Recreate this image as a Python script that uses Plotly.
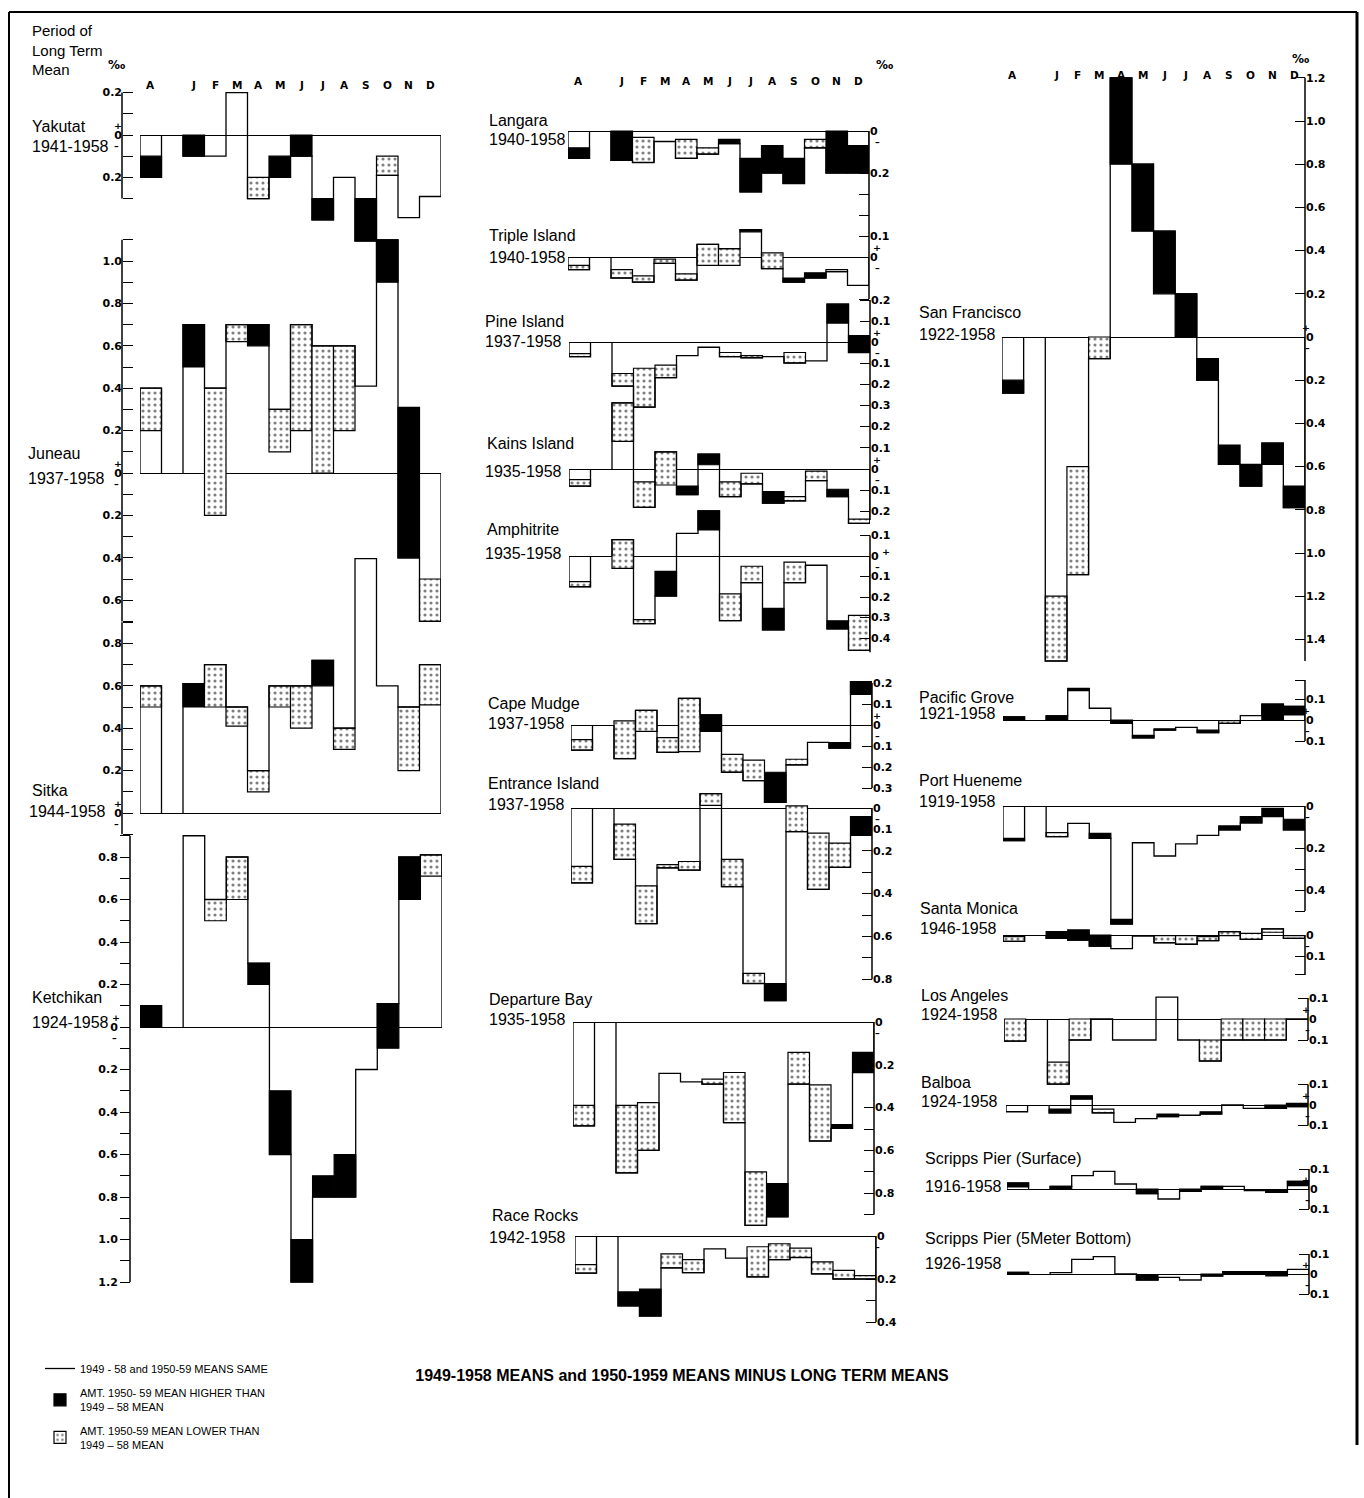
import plotly.graph_objects as go

W, H = 1364, 1498

MONTHS = ["A", "J", "F", "M", "A", "M", "J", "J", "A", "S", "O", "N", "D"]
SLOTS = [0, 2, 3, 4, 5, 6, 7, 8, 9, 10, 11, 12, 13]

# ---- data: 1949-58 mean minus long-term mean, and 1950-59 mean minus long-term mean (per mille)
#           order: Annual, Jan ... Dec
yakutat_4958 = [-0.20, -0.10, -0.10, 0.20, -0.20, -0.20, -0.10, -0.40, -0.20, -0.50, -0.10, -0.39, -0.29]
yakutat_5059 = [-0.10, 0.00, -0.10, 0.20, -0.30, -0.10, 0.00, -0.30, -0.20, -0.30, -0.19, -0.39, -0.29]

juneau_4958 = [0.40, 0.50, 0.40, 0.70, 0.60, 0.30, 0.70, 0.60, 0.60, 0.41, 0.90, -0.40, -0.50]
juneau_5059 = [0.20, 0.70, -0.20, 0.62, 0.70, 0.10, 0.20, 0.00, 0.20, 0.41, 1.10, 0.31, -0.70]

sitka_4958 = [0.60, 0.50, 0.70, 0.50, 0.20, 0.60, 0.60, 0.60, 0.40, 1.20, 0.60, 0.50, 0.70]
sitka_5059 = [0.50, 0.61, 0.50, 0.41, 0.10, 0.50, 0.40, 0.72, 0.30, 1.20, 0.60, 0.20, 0.51]

ketchikan_4958 = [0.00, 0.90, 0.60, 0.80, 0.20, -0.60, -1.20, -0.80, -0.80, -0.20, -0.10, 0.60, 0.81]
ketchikan_5059 = [0.10, 0.90, 0.50, 0.60, 0.30, -0.30, -1.00, -0.70, -0.60, -0.20, 0.11, 0.80, 0.71]

langara_4958 = [-0.13, -0.14, -0.03, -0.05, -0.04, -0.08, -0.06, -0.29, -0.20, -0.25, -0.04, -0.20, -0.20]
langara_5059 = [-0.08, 0.00, -0.15, -0.05, -0.13, -0.11, -0.04, -0.13, -0.07, -0.13, -0.08, 0.00, -0.07]

triple_4958 = [-0.04, -0.06, -0.09, -0.01, -0.08, 0.06, 0.04, 0.12, 0.02, -0.12, -0.10, -0.06, -0.135]
triple_5059 = [-0.06, -0.10, -0.12, -0.03, -0.11, -0.04, -0.04, 0.13, -0.055, -0.10, -0.075, -0.07, -0.135]

pine_4958 = [-0.055, -0.15, -0.125, -0.11, -0.065, -0.025, -0.05, -0.065, -0.07, -0.05, -0.09, 0.09, -0.05]
pine_5059 = [-0.07, -0.21, -0.31, -0.17, -0.065, -0.025, -0.07, -0.075, -0.07, -0.10, -0.09, 0.18, 0.03]

kains_4958 = [-0.05, 0.31, -0.06, 0.08, -0.12, 0.02, -0.06, -0.02, -0.16, -0.13, -0.01, -0.13, -0.235]
kains_5059 = [-0.08, 0.13, -0.18, -0.075, -0.08, 0.07, -0.13, -0.07, -0.106, -0.15, -0.055, -0.095, -0.255]

amphitrite_4958 = [-0.125, 0.08, -0.31, -0.195, 0.11, 0.127, -0.185, -0.05, -0.36, -0.03, -0.045, -0.355, -0.29]
amphitrite_5059 = [-0.15, -0.06, -0.33, -0.075, 0.11, 0.22, -0.315, -0.13, -0.255, -0.13, -0.045, -0.316, -0.46]

capemudge_4958 = [-0.07, 0.02, 0.07, -0.06, 0.127, -0.03, -0.14, -0.167, -0.368, -0.163, -0.083, -0.11, 0.146]
capemudge_5059 = [-0.12, -0.16, -0.03, -0.13, -0.127, 0.048, -0.225, -0.265, -0.225, -0.19, -0.083, -0.084, 0.206]

entrance_4958 = [-0.273, -0.075, -0.364, -0.265, -0.25, 0.067, -0.24, -0.773, -0.90, 0.01, -0.117, -0.164, -0.128]
entrance_5059 = [-0.35, -0.24, -0.54, -0.28, -0.29, 0.012, -0.367, -0.82, -0.82, -0.11, -0.38, -0.277, -0.04]

departure_4958 = [-0.39, -0.39, -0.377, -0.24, -0.28, -0.267, -0.236, -0.70, -0.91, -0.142, -0.294, -0.497, -0.236]
departure_5059 = [-0.485, -0.705, -0.60, -0.24, -0.28, -0.29, -0.47, -0.95, -0.755, -0.29, -0.556, -0.48, -0.142]

racerocks_4958 = [-0.133, -0.325, -0.372, -0.083, -0.11, -0.06, -0.103, -0.05, -0.036, -0.056, -0.12, -0.16, -0.184]
racerocks_5059 = [-0.173, -0.26, -0.247, -0.148, -0.17, -0.06, -0.103, -0.19, -0.11, -0.10, -0.176, -0.20, -0.20]

sanfrancisco_4958 = [-0.26, -1.20, -0.60, 0.00, 0.80, 0.49, 0.20, 0.00, -0.20, -0.59, -0.69, -0.59, -0.79]
sanfrancisco_5059 = [-0.20, -1.50, -1.10, -0.10, 1.20, 0.80, 0.49, 0.20, -0.10, -0.50, -0.59, -0.49, -0.69]

pacificgrove_4958 = [0.00, 0.00, 0.14, 0.056, -0.016, -0.085, -0.048, -0.035, -0.06, -0.003, 0.021, 0.00, 0.024]
pacificgrove_5059 = [0.015, 0.02, 0.15, 0.056, 0.00, -0.073, -0.042, -0.035, -0.048, -0.016, 0.021, 0.076, 0.065]

porthueneme_4958 = [-0.165, -0.127, -0.083, -0.154, -0.562, -0.175, -0.238, -0.18, -0.14, -0.114, -0.08, -0.05, -0.114]
porthueneme_5059 = [-0.154, -0.146, -0.083, -0.13, -0.54, -0.175, -0.238, -0.18, -0.14, -0.095, -0.05, -0.011, -0.063]

santamonica_4958 = [-0.008, -0.016, -0.024, -0.053, -0.065, -0.005, -0.003, -0.003, -0.008, 0.016, 0.008, 0.029, -0.003]
santamonica_5059 = [-0.03, 0.016, 0.024, 0.00, -0.065, -0.005, -0.037, -0.044, -0.027, -0.003, -0.021, 0.013, -0.016]

losangeles_4958 = [0.00, -0.205, 0.00, 0.00, -0.10, -0.10, 0.104, -0.10, -0.10, 0.00, 0.00, 0.00, 0.00]
losangeles_5059 = [-0.105, -0.31, -0.10, 0.00, -0.10, -0.10, 0.104, -0.10, -0.20, -0.10, -0.10, -0.10, 0.00]

balboa_4958 = [-0.033, -0.038, 0.028, -0.02, -0.085, -0.066, -0.057, -0.05, -0.044, 0.00, -0.016, -0.016, -0.008]
balboa_5059 = [-0.033, -0.02, 0.044, -0.038, -0.085, -0.066, -0.044, -0.05, -0.033, 0.00, -0.016, 0.00, 0.008]

scrippssurf_4958 = [0.01, 0.00, 0.067, 0.088, 0.025, -0.023, -0.05, -0.012, 0.003, 0.013, -0.008, -0.017, 0.017]
scrippssurf_5059 = [0.03, 0.013, 0.067, 0.088, 0.025, 0.00, -0.05, 0.00, 0.013, 0.013, -0.008, -0.003, 0.038]

scrippsbot_4958 = [0.00, 0.007, 0.073, 0.087, 0.00, -0.03, -0.017, -0.03, -0.01, 0.00, 0.00, -0.01, 0.023]
scrippsbot_5059 = [0.008, 0.007, 0.073, 0.087, 0.00, -0.008, -0.017, -0.03, 0.00, 0.012, 0.012, 0.012, 0.023]

STATIONS = [
    ("yakutat", "Yakutat", "1941-1958", yakutat_4958, yakutat_5059),
    ("juneau", "Juneau", "1937-1958", juneau_4958, juneau_5059),
    ("sitka", "Sitka", "1944-1958", sitka_4958, sitka_5059),
    ("ketchikan", "Ketchikan", "1924-1958", ketchikan_4958, ketchikan_5059),
    ("langara", "Langara", "1940-1958", langara_4958, langara_5059),
    ("triple", "Triple Island", "1940-1958", triple_4958, triple_5059),
    ("pine", "Pine Island", "1937-1958", pine_4958, pine_5059),
    ("kains", "Kains Island", "1935-1958", kains_4958, kains_5059),
    ("amphitrite", "Amphitrite", "1935-1958", amphitrite_4958, amphitrite_5059),
    ("capemudge", "Cape Mudge", "1937-1958", capemudge_4958, capemudge_5059),
    ("entrance", "Entrance Island", "1937-1958", entrance_4958, entrance_5059),
    ("departure", "Departure Bay", "1935-1958", departure_4958, departure_5059),
    ("racerocks", "Race Rocks", "1942-1958", racerocks_4958, racerocks_5059),
    ("sanfrancisco", "San Francisco", "1922-1958", sanfrancisco_4958, sanfrancisco_5059),
    ("pacificgrove", "Pacific Grove", "1921-1958", pacificgrove_4958, pacificgrove_5059),
    ("porthueneme", "Port Hueneme", "1919-1958", porthueneme_4958, porthueneme_5059),
    ("santamonica", "Santa Monica", "1946-1958", santamonica_4958, santamonica_5059),
    ("losangeles", "Los Angeles", "1924-1958", losangeles_4958, losangeles_5059),
    ("balboa", "Balboa", "1924-1958", balboa_4958, balboa_5059),
    ("scrippssurf", "Scripps Pier (Surface)", "1916-1958", scrippssurf_4958, scrippssurf_5059),
    ("scrippsbot", "Scripps Pier (5Meter Bottom)", "1926-1958", scrippsbot_4958, scrippsbot_5059),
]

# ---- layout geometry (pixels): panel slot extent, zero line, scale, axis
L = dict(ax=122, side="left", ticks="inside", sx=112, pdx=0)
LK = dict(ax=130, side="left", ticks="outside", sx=110, pdx=0)
M = dict(side="right", ticks="inside", sx=877, pdx=0)
R = dict(side="right", ticks="inside", sx=1312, pdx=0)

GEOM = {
    "yakutat": dict(L, x0=140, x1=441, zero=135, ppu=212, span=(-0.3, 0.2),
                    labels=[0.2, 0, -0.2], minor=[0.1, -0.1, -0.3], plus=True, minus=True,
                    nxy=(30, 126), pxy=(30, 147)),
    "juneau": dict(L, x0=140, x1=441, zero=473, ppu=212, span=(-0.7, 1.1),
                   labels=[1.0, 0.8, 0.6, 0.4, 0.2, 0, -0.2, -0.4, -0.6],
                   minor=[1.1, 0.9, 0.7, 0.5, 0.3, 0.1, -0.1, -0.3, -0.5, -0.7], plus=True, minus=True,
                   nxy=(26, 453), pxy=(26, 478)),
    "sitka": dict(L, x0=140, x1=441, zero=813, ppu=212, span=(-0.1, 0.9),
                  labels=[0.8, 0.6, 0.4, 0.2, 0], minor=[0.9, 0.7, 0.5, 0.3, 0.1, -0.1],
                  plus=True, minus=True, nxy=(30, 790), pxy=(27, 812)),
    "ketchikan": dict(LK, x0=140, x1=442, zero=1027, ppu=212.5, span=(-1.2, 0.9),
                      labels=[0.8, 0.6, 0.4, 0.2, 0, -0.2, -0.4, -0.6, -0.8, -1.0, -1.2],
                      minor=[0.9, 0.7, 0.5, 0.3, 0.1, -0.1, -0.3, -0.5, -0.7, -0.9, -1.1],
                      plus=True, minus=True, nxy=(30, 997), pxy=(30, 1022)),
    "langara": dict(M, x0=568, x1=869, ax=869, zero=131, ppu=210, span=(-0.4, 0),
                    labels=[0, -0.2], minor=[-0.3, -0.4], plus=False, minus=True,
                    nxy=(487, 121), pxy=(487, 139)),
    "triple": dict(M, x0=568, x1=869, ax=869, zero=257, ppu=210, span=(-0.2, 0.2),
                   labels=[0.1, 0], minor=[0.2, -0.2], plus=True, minus=True,
                   nxy=(487, 235), pxy=(487, 257)),
    "pine": dict(M, x0=569, x1=870, ax=870, zero=342, ppu=210, span=(-0.3, 0.2),
                 labels=[0.2, 0.1, 0, -0.1, -0.2, -0.3], minor=[], plus=True, minus=True,
                 nxy=(483, 321), pxy=(483, 342)),
    "kains": dict(M, x0=569, x1=870, ax=870, zero=469, ppu=213, span=(-0.24, 0.3),
                  labels=[0.2, 0.1, 0, -0.1, -0.2], minor=[0.3], plus=True, minus=True,
                  nxy=(485, 443), pxy=(483, 471)),
    "amphitrite": dict(M, x0=569, x1=870, ax=870, zero=556, ppu=205, span=(-0.47, 0.1),
                       labels=[0.1, 0, -0.1, -0.2, -0.3, -0.4], minor=[], plus=True, minus=True,
                       nxy=(485, 529), pxy=(483, 553), pdx=9),
    "capemudge": dict(M, x0=571, x1=872, ax=872, zero=725, ppu=210, span=(-0.3, 0.2),
                      labels=[0.2, 0.1, 0, -0.1, -0.2, -0.3], minor=[], plus=True, minus=True,
                      nxy=(486, 703), pxy=(486, 723)),
    "entrance": dict(M, x0=571, x1=872, ax=872, zero=808, ppu=214, span=(-0.8, 0),
                     labels=[0, -0.1, -0.2, -0.4, -0.6, -0.8], minor=[-0.3, -0.5, -0.7],
                     plus=False, minus=True, nxy=(486, 784), pxy=(486, 804)),
    "departure": dict(M, x0=573, x1=874, ax=874, zero=1022, ppu=214, span=(-0.9, 0),
                      labels=[0, -0.2, -0.4, -0.6, -0.8], minor=[-0.5, -0.7, -0.9],
                      plus=False, minus=True, nxy=(487, 999), pxy=(487, 1019)),
    "racerocks": dict(M, x0=575, x1=876, ax=876, zero=1236, ppu=215, span=(-0.4, 0),
                      labels=[0, -0.2, -0.4], minor=[-0.3], plus=False, minus=True,
                      nxy=(490, 1215), pxy=(487, 1237)),
    "sanfrancisco": dict(R, x0=1002, x1=1305, ax=1305, zero=337, ppu=216, span=(-1.5, 1.2),
                         labels=[1.2, 1.0, 0.8, 0.6, 0.4, 0.2, 0, -0.2, -0.4, -0.6, -0.8, -1.0, -1.2, -1.4],
                         minor=[], plus=True, minus=True, nxy=(917, 312), pxy=(917, 334)),
    "pacificgrove": dict(R, x0=1003, x1=1305, ax=1305, zero=720, ppu=210, span=(-0.1, 0.19),
                         labels=[0.1, 0, -0.1], minor=[0.19], plus=True, minus=True,
                         nxy=(917, 697), pxy=(917, 714)),
    "porthueneme": dict(R, x0=1003, x1=1305, ax=1305, zero=806, ppu=210, span=(-0.5, 0),
                        labels=[0, -0.2, -0.4], minor=[-0.1, -0.3, -0.5], plus=False, minus=True,
                        nxy=(917, 780), pxy=(917, 801)),
    "santamonica": dict(R, x0=1003, x1=1305, ax=1305, zero=935, ppu=210, span=(-0.19, 0),
                        labels=[0, -0.1], minor=[-0.19], plus=False, minus=True,
                        nxy=(918, 908), pxy=(918, 928)),
    "losangeles": dict(R, x0=1004, x1=1308, ax=1308, zero=1019, ppu=210, span=(-0.1, 0.1),
                       labels=[0.1, 0, -0.1], minor=[], plus=True, minus=True,
                       nxy=(919, 995), pxy=(919, 1014)),
    "balboa": dict(R, x0=1006, x1=1308, ax=1308, zero=1105, ppu=205, span=(-0.1, 0.1),
                   labels=[0.1, 0, -0.1], minor=[], plus=True, minus=True,
                   nxy=(919, 1082), pxy=(919, 1101)),
    "scrippssurf": dict(R, x0=1007, x1=1309, ax=1309, zero=1189, ppu=200, span=(-0.1, 0.1),
                        labels=[0.1, 0, -0.1], minor=[], plus=True, minus=True,
                        nxy=(923, 1158), pxy=(923, 1186)),
    "scrippsbot": dict(R, x0=1007, x1=1309, ax=1309, zero=1274, ppu=200, span=(-0.1, 0.1),
                       labels=[0.1, 0, -0.1], minor=[], plus=True, minus=True,
                       nxy=(923, 1238), pxy=(923, 1263)),
}

TXT = "Liberation Sans"
TICKF = "DejaVu Sans"
BOLD_DY = -7   # DejaVu bold paper annotations render lower; compensate


def px2x(px):
    return px / W


def px2y(py):
    return 1 - py / H


def fmt(v):
    return "0" if abs(v) < 1e-9 else f"{abs(v):.1f}"


fig = go.Figure()
axes = {}
shapes = []
annotations = []
legend_shown = {"hi": False, "lo": False, "line": False}

for i, (key, name, period, m1, m2) in enumerate(STATIONS, start=1):
    g = GEOM[key]
    sfx = "" if i == 1 else str(i)
    xa, ya = "x" + sfx, "y" + sfx
    env = [a if abs(a) >= abs(b) else b for a, b in zip(m1, m2)]

    hi = dict(x=[], base=[], h=[])
    lo = dict(x=[], base=[], h=[])
    for s, a, b in zip(SLOTS, m1, m2):
        if b > a + 1e-9:
            hi["x"].append(s); hi["base"].append(a); hi["h"].append(b - a)
        elif b < a - 1e-9:
            lo["x"].append(s); lo["base"].append(b); lo["h"].append(a - b)

    if hi["x"]:
        fig.add_trace(go.Bar(
            x=hi["x"], y=hi["h"], base=hi["base"], width=1, xaxis=xa, yaxis=ya,
            marker=dict(color="black", line=dict(color="black", width=1.2)),
            name="AMT. 1950- 59 MEAN HIGHER THAN<br>1949 – 58 MEAN", legendgroup="hi",
            legendrank=2, showlegend=not legend_shown["hi"], hoverinfo="skip"))
        legend_shown["hi"] = True
    if lo["x"]:
        fig.add_trace(go.Bar(
            x=lo["x"], y=lo["h"], base=lo["base"], width=1, xaxis=xa, yaxis=ya,
            marker=dict(color="white", line=dict(color="black", width=1.2),
                        pattern=dict(shape=".", fgcolor="black", bgcolor="white",
                                     size=6, solidity=0.22)),
            name="AMT. 1950-59 MEAN LOWER THAN<br>1949 – 58 MEAN", legendgroup="lo",
            legendrank=3, showlegend=not legend_shown["lo"], hoverinfo="skip"))
        legend_shown["lo"] = True

    sx = [SLOTS[0] - 0.5, SLOTS[0] - 0.5, SLOTS[0] + 0.5, None, SLOTS[1] - 0.5] + \
         [s - 0.5 for s in SLOTS[1:]] + [SLOTS[-1] + 0.5]
    sy = [0, env[0], 0, None, 0] + env[1:] + [0]
    fig.add_trace(go.Scatter(
        x=sx, y=sy, mode="lines", line=dict(color="black", width=1.3, shape="hv"),
        xaxis=xa, yaxis=ya, name="1949 - 58 and 1950-59 MEANS SAME", legendgroup="line",
        legendrank=1, showlegend=not legend_shown["line"], hoverinfo="skip"))
    legend_shown["line"] = True

    r0 = (g["zero"] - H) / g["ppu"]
    r1 = g["zero"] / g["ppu"]
    tk = dict(ticks=g["ticks"], ticklen=10, tickwidth=1.4, tickcolor="black")
    axes["yaxis" + sfx] = dict(
        domain=[0, 1], range=[r0, r1], anchor="free", position=px2x(g["ax"]), side=g["side"],
        showline=False, showgrid=False, zeroline=True, zerolinecolor="black", zerolinewidth=1.2,
        tickmode="array", tickvals=g["labels"], ticktext=[fmt(v) for v in g["labels"]],
        minor=dict(tickmode="array", tickvals=g["minor"], showgrid=False, **tk),
        tickfont=dict(family=TICKF, size=11, color="black", weight="bold"),
        layer="above traces", fixedrange=True, **tk)
    axes["xaxis" + sfx] = dict(domain=[px2x(g["x0"]), px2x(g["x1"])], range=[-0.5, 13.5],
                               visible=False, anchor="free", position=0, fixedrange=True)
    shapes.append(dict(type="line", xref="paper", yref=ya, x0=px2x(g["ax"]), x1=px2x(g["ax"]),
                       y0=g["span"][0], y1=g["span"][1], line=dict(color="black", width=1.5)))
    sign_font = dict(family=TICKF, size=9.5, color="black", weight="bold")
    if g["plus"]:
        annotations.append(dict(text="+", xref="paper", yref=ya, x=px2x(g["sx"] + g["pdx"]), y=0,
                                yshift=10 if g["pdx"] == 0 else 5, showarrow=False, font=sign_font))
    if g["minus"]:
        annotations.append(dict(text="–", xref="paper", yref=ya, x=px2x(g["sx"]), y=0, yshift=-10,
                                showarrow=False, font=sign_font))
    for txt, (px, py) in ((name, g["nxy"]), (period, g["pxy"])):
        annotations.append(dict(text=txt, xref="paper", yref="paper", x=px2x(px), y=px2y(py),
                                xanchor="left", yanchor="middle", showarrow=False,
                                font=dict(family=TXT, size=16, color="black")))

# month headers
for xa, py in (("x", 84), ("x5", 80), ("x14", 74)):
    for s, m in zip(SLOTS, MONTHS):
        annotations.append(dict(text=m, xref=xa, yref="paper", x=s, y=px2y(py + BOLD_DY),
                                showarrow=False,
                                font=dict(family=TICKF, size=10.5, color="black", weight="bold")))
for px, py in ((106, 63), (884, 63), (1311, 57)):
    annotations.append(dict(text="‰", xref="paper", yref="paper", x=px2x(px), y=px2y(py + BOLD_DY),
                            showarrow=False, font=dict(family=TICKF, size=12, color="black",
                                                       weight="bold")))
annotations.append(dict(text="Period of<br>Long Term<br>Mean", xref="paper", yref="paper",
                        x=px2x(30), y=px2y(20), xanchor="left", yanchor="top", align="left",
                        showarrow=False, font=dict(family=TXT, size=15, color="black")))

# frame
shapes += [
    dict(type="line", xref="paper", yref="paper", x0=px2x(9), x1=px2x(9), y0=px2y(12), y1=0,
         line=dict(color="black", width=2)),
    dict(type="line", xref="paper", yref="paper", x0=px2x(9), x1=px2x(1357), y0=px2y(12),
         y1=px2y(12), line=dict(color="black", width=2)),
    dict(type="line", xref="paper", yref="paper", x0=px2x(1357), x1=px2x(1357), y0=px2y(12),
         y1=px2y(1445), line=dict(color="black", width=3)),
]

fig.update_layout(
    width=W, height=H, margin=dict(l=0, r=0, t=0, b=0, pad=0),
    paper_bgcolor="white", plot_bgcolor="rgba(0,0,0,0)", barmode="overlay",
    hovermode=False, font=dict(family=TXT, color="black"),
    shapes=shapes, annotations=annotations,
    title=dict(text="<b>1949-1958 MEANS and 1950-1959 MEANS MINUS LONG TERM MEANS</b>",
               x=0.5, xanchor="center", xref="paper", y=px2y(1375), yanchor="middle",
               yref="paper", font=dict(family=TXT, size=16, color="black")),
    legend=dict(x=px2x(40), y=px2y(1354), xanchor="left", yanchor="top",
                font=dict(family=TXT, size=11, color="black"), bgcolor="rgba(0,0,0,0)",
                tracegroupgap=6, itemwidth=30),
    **axes,
)

fig.write_html("out.html", config={"displayModeBar": False},
               post_script="document.body.style.margin='0px';")
